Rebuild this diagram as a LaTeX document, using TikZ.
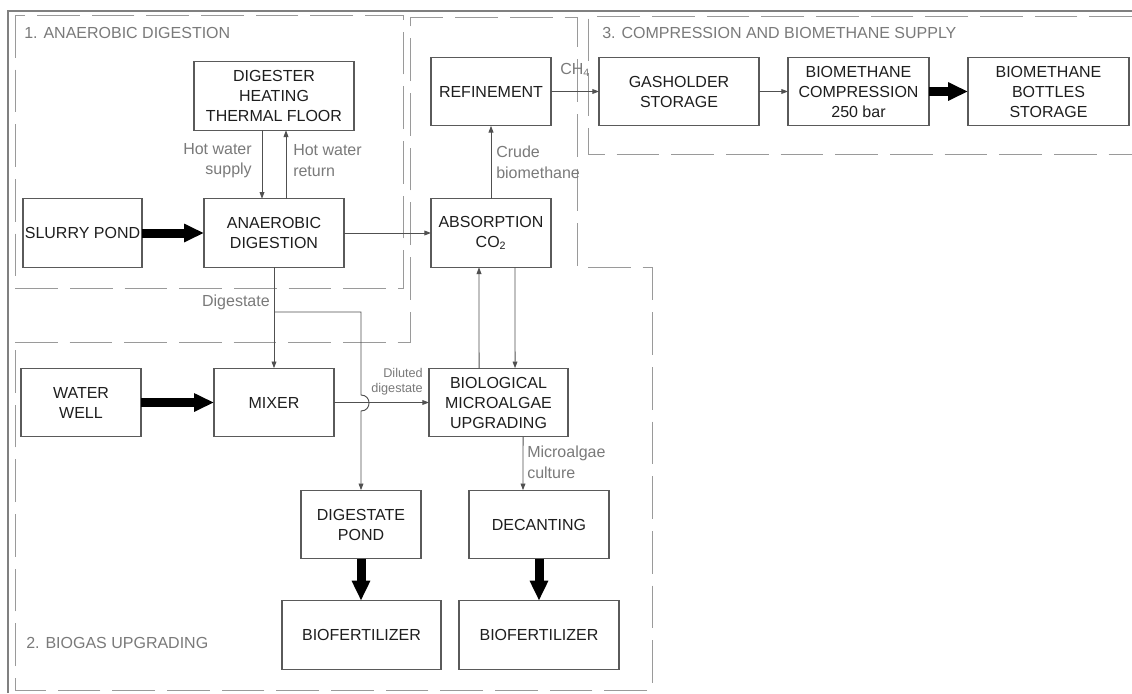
\documentclass[tikz,border=0pt]{standalone}
\usepackage{fontspec}
\setmainfont{Liberation Sans}
\usetikzlibrary{arrows.meta}
\definecolor{boxline}{HTML}{5A5A5A}
\definecolor{boxtext}{HTML}{1E1E1E}
\definecolor{flowline}{HTML}{505050}
\definecolor{notegray}{HTML}{7A7A7A}
\definecolor{zonegray}{HTML}{9A9A9A}
\definecolor{framegray}{HTML}{808080}
\begin{document}
\begin{tikzpicture}[x=0.75pt,y=-0.75pt,
  box/.style={draw=boxline, line width=0.8pt, fill=white, inner sep=1pt, outer sep=0pt,
    align=center, text=boxtext, font=\fontsize{12}{15}\selectfont, minimum height=51.5pt},
  flow/.style={draw=flowline, line width=0.7pt, -{Triangle[length=5pt,width=3.6pt]}},
  bulk/.style={draw=black, line width=6.75pt, -{Triangle[length=15pt,width=13pt]}},
  note/.style={text=notegray, font=\fontsize{12}{15.5}\selectfont, inner sep=0pt},
  tiny/.style={text=notegray, font=\fontsize{9.5}{11.3}\selectfont, inner sep=0pt},
  zone/.style={draw=zonegray, line width=0.7pt, dash pattern=on 32pt off 9pt},
  title/.style={text=notegray, font=\fontsize{12}{14}\selectfont, inner sep=0pt, anchor=west}]
\useasboundingbox (0,0) rectangle (1132,693);
\fill[white] (0,0) rectangle (1132,693);

% outer frame
\draw[framegray, line width=0.9pt] (8,693) -- (8,11) -- (1132,11);

% process zones
\draw[zone] (15,15) rectangle (403,288);
\draw[zone] (15,342) -- (410,342) -- (410,17) -- (577,17) -- (577,267) -- (652,267)
  -- (652,690) -- (15,690) -- cycle;
\draw[zone] (1132,16) -- (588,16) -- (588,154) -- (1132,154);

\node[title] (t1) at (24,33) {1. ANAEROBIC DIGESTION};
\node[title] (t3) at (602,33) {3. COMPRESSION AND BIOMETHANE SUPPLY};
\node[title] (t2) at (26,643) {2. BIOGAS UPGRADING};

% boxes
\node[box, minimum width=120pt] (heat) at (274,96) {DIGESTER\\HEATING\\THERMAL FLOOR};
\node[box, minimum width=89.25pt] (slurry) at (82.5,233) {SLURRY POND};
\node[box, minimum width=105pt] (ad) at (274,233) {ANAEROBIC\\DIGESTION};
\node[box, minimum width=90pt] (refine) at (491,91.5) {REFINEMENT};
\node[box, minimum width=90pt] (absorb) at (491,233) {ABSORPTION\\CO\textsubscript{2}};
\node[box, minimum width=120pt] (gas) at (679,91.5) {GASHOLDER\\STORAGE};
\node[box, minimum width=105.75pt] (comp) at (858.5,91.5) {BIOMETHANE\\COMPRESSION\\250 bar};
\node[box, minimum width=120.75pt] (bottles) at (1048.5,91.5) {BIOMETHANE\\BOTTLES\\STORAGE};
\node[box, minimum width=90pt] (well) at (81,402.5) {WATER\\WELL};
\node[box, minimum width=90pt] (mixer) at (274,402.5) {MIXER};
\node[box, minimum width=104.25pt] (bio) at (498.5,402.5) {BIOLOGICAL\\MICROALGAE\\UPGRADING};
\node[box, minimum width=90pt] (dpond) at (361,524.5) {DIGESTATE\\POND};
\node[box, minimum width=105pt] (decant) at (539,524.5) {DECANTING};
\node[box, minimum width=119.25pt] (bf1) at (361.5,635) {BIOFERTILIZER};
\node[box, minimum width=120pt] (bf2) at (539,635) {BIOFERTILIZER};

% bulk material flows
\draw[bulk] (slurry.east) -- (ad.west);
\draw[bulk] (well.east) -- (mixer.west);
\draw[bulk] (comp.east) -- (bottles.west);
\draw[bulk] (dpond.south) -- (dpond.south |- bf1.north);
\draw[bulk] (decant.south) -- (bf2.north);

% heating loop
\draw[flow] ([xshift=-9pt]heat.south) -- ([xshift=-9pt]ad.north);
\draw[flow] ([xshift=9pt]ad.north) -- ([xshift=9pt]heat.south);
\node[note, anchor=east, align=right] (hws) at (252,160.5) {Hot water\\supply};
\node[note, anchor=west, align=left] (hwr) at (293,160.5) {Hot water\\return};

% gas line
\draw[flow] (ad.east) -- (absorb.west);
\draw[flow] (absorb.north) -- (refine.south);
\node[note, anchor=west, align=left] (crude) at (496,162) {Crude\\biomethane};
\draw[flow] (refine.east) -- (gas.west);
\node[note, anchor=west] (ch4) at (560,70) {CH\textsubscript{4}};
\draw[flow] (gas.east) -- (comp.west);

% CO2 loop with the microalgae
\draw[flow] ([xshift=-14.6pt]bio.north) -- ([xshift=-9pt]absorb.south);
\draw[flow] ([xshift=18pt]absorb.south) -- ([xshift=12.4pt]bio.north);

% digestate lines
\coordinate (split) at (274,312);
\coordinate (hopA) at (361,395);
\coordinate (hopB) at (361,411);
\draw[flow] (ad.south) -- (mixer.north);
\draw[flow] (split) -| (hopA) .. controls (371.7,395) and (371.7,411) .. (hopB) -- (dpond.north);
\node[note, anchor=east] (dig) at (270,302) {Digestate};
\draw[flow] (mixer.east) -- (bio.west);
\node[tiny, anchor=east, align=right] (dil) at (423,382) {Diluted\\digestate};

% microalgae culture
\draw[flow] ([xshift=18.4pt]bio.south) -- ([xshift=-12pt]decant.north);
\node[note, anchor=west, align=left] (mac) at (527,462) {Microalgae\\culture};
\end{tikzpicture}
\end{document}
